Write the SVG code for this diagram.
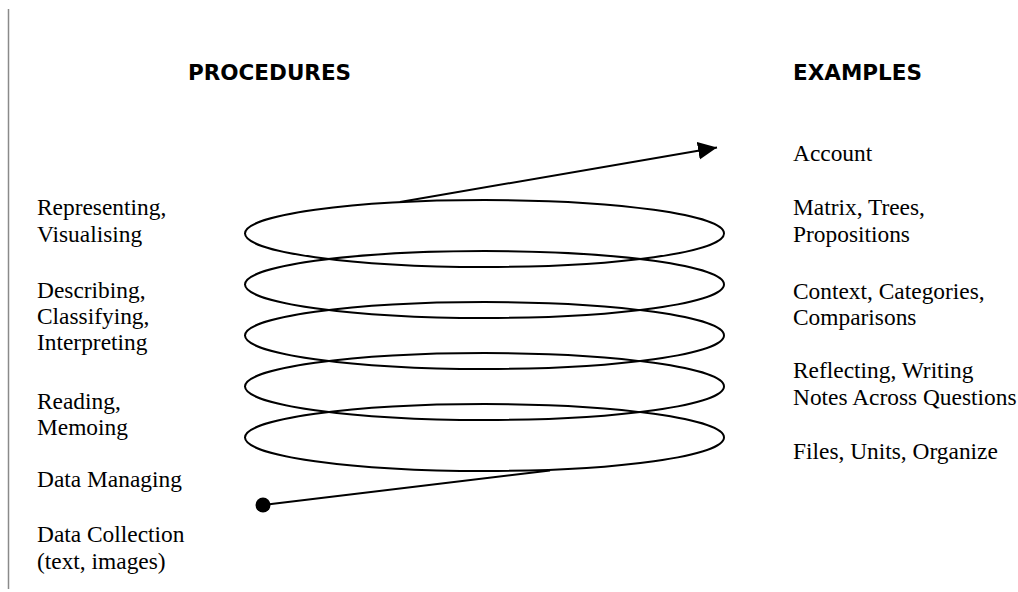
<svg xmlns="http://www.w3.org/2000/svg" width="1018" height="592" viewBox="0 0 1018 592">
<style>
.h{font-family:"DejaVu Sans",Verdana,sans-serif;font-weight:bold;font-size:21.5px;fill:#000}
.t{font-family:"Liberation Serif","Times New Roman",serif;font-size:23.4px;fill:#000}
.c{fill:none;stroke:#000;stroke-width:2}
</style>
<defs>
<marker id="ah" markerUnits="userSpaceOnUse" markerWidth="20" markerHeight="20" refX="19" refY="9" orient="auto">
<path d="M0,0 L19,9 L0,18 Z" fill="#000"/>
</marker>
</defs>
<rect width="1018" height="592" fill="#fff"/>
<line x1="8.5" y1="9" x2="8.5" y2="589" stroke="#8a8a8a" stroke-width="1.5"/>
<g id="headers">
<text class="h" x="188" y="80">PROCEDURES</text>
<text class="h" x="793" y="80">EXAMPLES</text>
</g>
<g id="spiral">
<ellipse class="c" cx="484.5" cy="233.5" rx="239.5" ry="33.5"/>
<ellipse class="c" cx="484.5" cy="284.5" rx="239.5" ry="33.5"/>
<ellipse class="c" cx="484.5" cy="335.5" rx="239.5" ry="33.5"/>
<ellipse class="c" cx="484.5" cy="386.5" rx="239.5" ry="33.5"/>
<ellipse class="c" cx="484.5" cy="437.5" rx="239.5" ry="33.5"/>
</g>
<g id="connectors">
<line class="c" x1="400" y1="202" x2="717" y2="147.5" marker-end="url(#ah)"/>
<line class="c" x1="263" y1="505" x2="550" y2="470.5"/>
<circle cx="263" cy="505" r="7.5" fill="#000"/>
</g>
<g id="procedures">
<g id="p-represent"><text class="t" x="37" y="215">Representing,</text><text class="t" x="37" y="242">Visualising</text></g>
<g id="p-describe"><text class="t" x="37" y="298">Describing,</text><text class="t" x="37" y="324">Classifying,</text><text class="t" x="37" y="350">Interpreting</text></g>
<g id="p-read"><text class="t" x="37" y="409">Reading,</text><text class="t" x="37" y="435">Memoing</text></g>
<g id="p-manage"><text class="t" x="37" y="487">Data Managing</text></g>
<g id="p-collect"><text class="t" x="37" y="542">Data Collection</text><text class="t" x="37" y="569">(text, images)</text></g>
</g>
<g id="examples">
<g id="e-account"><text class="t" x="793" y="161">Account</text></g>
<g id="e-matrix"><text class="t" x="793" y="215">Matrix, Trees,</text><text class="t" x="793" y="242">Propositions</text></g>
<g id="e-context"><text class="t" x="793" y="299">Context, Categories,</text><text class="t" x="793" y="325">Comparisons</text></g>
<g id="e-reflect"><text class="t" x="793" y="378">Reflecting, Writing</text><text class="t" x="793" y="405">Notes Across Questions</text></g>
<g id="e-files"><text class="t" x="793" y="459">Files, Units, Organize</text></g>
</g>
</svg>
